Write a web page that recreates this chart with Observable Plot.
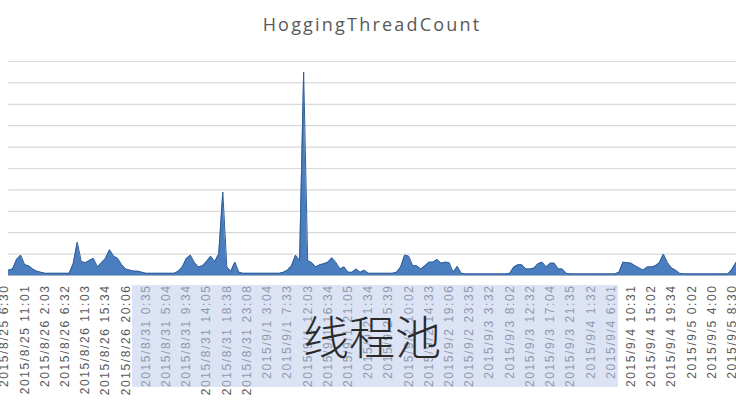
<!DOCTYPE html>
<html>
<head>
<meta charset="utf-8">
<script src="https://cdn.jsdelivr.net/npm/d3@7"></script>
<script src="https://cdn.jsdelivr.net/npm/@observablehq/plot@0.6"></script>
<style>
  html, body { margin: 0; padding: 0; background: #fff; }
  body { width: 736px; height: 400px; overflow: hidden; position: relative; }
  #title { height: 48px; line-height: 48px; text-align: center; font-family: "Open Sans", sans-serif;
           font-size: 18px; color: #595959; letter-spacing: 2.2px; padding-left: 8px; }
  #chart { width: 736px; height: 352px; overflow: hidden; }
  #chart svg { max-width: none !important; }
  #chart g[aria-label="x-axis tick label"] text { letter-spacing: 1.6px; }
  #highlight { position: absolute; left: 132px; top: 285px; width: 486px; height: 102px;
               background: rgba(190, 204, 237, 0.55); }
  #overlay { position: absolute; left: 0; width: 744px; top: 308px; text-align: center;
             font-family: "Noto Sans CJK SC", sans-serif; font-size: 46px; line-height: 52px;
             color: #2b2b2b; font-weight: 300; }
</style>
</head>
<body>
<div id="title">HoggingThreadCount</div>
<div id="chart"></div>
<div id="highlight"></div>
<div id="overlay">线程池</div>
<script>
// Category tick labels (one every 5 samples)
const tickLabels = [
  "2015/8/25 6:30", "2015/8/25 11:01", "2015/8/26 2:03", "2015/8/26 6:32", "2015/8/26 11:03",
  "2015/8/26 15:34", "2015/8/26 20:06", "2015/8/31 0:35", "2015/8/31 5:04", "2015/8/31 9:34",
  "2015/8/31 14:05", "2015/8/31 18:38", "2015/8/31 23:08", "2015/9/1 3:04", "2015/9/1 7:33",
  "2015/9/1 12:03", "2015/9/1 16:34", "2015/9/1 21:05", "2015/9/2 1:34", "2015/9/2 5:39",
  "2015/9/2 10:02", "2015/9/2 14:33", "2015/9/2 19:06", "2015/9/2 23:35", "2015/9/3 3:32",
  "2015/9/3 8:02", "2015/9/3 12:32", "2015/9/3 17:04", "2015/9/3 21:35", "2015/9/4 1:32",
  "2015/9/4 6:01", "2015/9/4 10:31", "2015/9/4 15:02", "2015/9/4 19:34", "2015/9/5 0:02",
  "2015/9/5 4:00", "2015/9/5 8:30"
];
const labelEvery = 5;

// HoggingThreadCount samples
const hogging = [
  0.5,0.6,1.5,1.9,1.0,0.9,0.6,0.4,0.3,0.2,0.2,0.2,0.2,0.2,0.2,0.2,
  1.1,3.1,1.3,1.2,1.4,1.6,0.8,1.2,1.6,2.4,1.8,1.6,1.0,0.6,0.5,0.4,0.4,0.3,
  0.2,0.2,0.2,0.2,0.2,0.2,0.2,0.2,
  0.4,0.8,1.6,1.9,1.2,0.8,0.9,1.3,1.8,1.3,2.0,7.8,0.8,0.4,1.25,0.3,0.2,
  0.2,0.2,0.2,0.2,0.2,0.2,0.2,0.2,0.2,
  0.3,0.5,0.9,1.9,1.4,19,1.4,1.2,0.8,1.0,1.1,1.25,1.65,1.2,0.6,0.8,0.3,0.3,0.6,0.3,0.5,
  0.2,0.2,0.2,0.2,0.2,0.2,0.2,
  0.3,0.8,1.9,1.8,0.9,0.9,0.6,0.9,1.25,1.25,1.5,1.15,1.25,1.2,0.3,0.85,0.2,
  0.15,0.15,0.15,0.15,0.15,0.15,0.15,0.15,0.15,0.15,0.15,
  0.2,0.8,1.0,1.0,0.6,0.6,0.7,1.1,1.25,0.8,1.15,1.15,0.6,0.6,0.2,
  0.15,0.15,0.15,0.15,0.15,0.15,0.15,0.15,0.15,0.15,0.15,0.15,
  0.3,1.25,1.2,1.15,0.9,0.7,0.5,0.8,0.8,0.9,1.2,2.0,1.2,0.7,0.5,0.2,
  0.15,0.15,0.15,0.15,0.15,0.15,0.15,0.15,0.15,0.15,0.15,0.15,
  0.6,1.25,1.2,1.0,0.8,0.6,0.4,0.3,0.2
];

// y gridline values
const yTicks = [2, 4, 6, 8, 10, 12, 14, 16, 18, 20];

const data = hogging.map((v, i) => ({ i, v }));
const tickIdx = tickLabels.map((_, k) => k * labelEvery - 1);
const firstI = data[0].i, lastI = data[data.length - 1].i;

const chart = Plot.plot({
  width: 764,
  height: 352,
  marginLeft: 4,
  marginRight: 0,
  marginTop: 13,
  marginBottom: 125,
  style: { fontFamily: "Liberation Sans, sans-serif", background: "transparent", maxWidth: "none" },
  x: { type: "linear", domain: [-1, lastI], axis: null, label: null },
  y: { domain: [0, 20], axis: null },
  marks: [
    Plot.ruleY(yTicks, { x1: firstI, x2: lastI, stroke: "#d9d9d9", strokeWidth: 1.2 }),
    Plot.areaY(data, { x: "i", y: "v", fill: "#4a7ebf" }),
    Plot.lineY(data, { x: "i", y: "v", stroke: "#2f5d99", strokeWidth: 1 }),
    Plot.ruleY([0], { x1: firstI, x2: lastI, stroke: "#9fb0c8", strokeWidth: 1 }),
    Plot.axisX({
      ticks: tickIdx,
      tickFormat: (i) => tickLabels[(i + 1) / labelEvery],
      tickRotate: -90,
      tickSize: 0,
      tickPadding: 9,
      fontSize: 12,
      fill: "#595959",
      label: null
    })
  ]
});
document.getElementById("chart").appendChild(chart);
</script>
</body>
</html>
